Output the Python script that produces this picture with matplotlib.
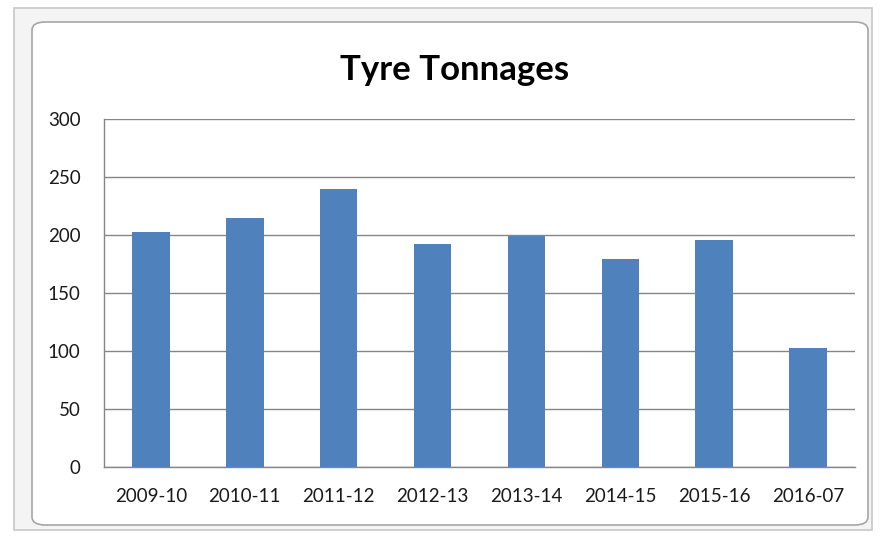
import matplotlib
matplotlib.use("Agg")
import matplotlib.pyplot as plt
from matplotlib.patches import FancyBboxPatch, Rectangle

categories = ["2009-10", "2010-11", "2011-12", "2012-13", "2013-14", "2014-15", "2015-16", "2016-07"]
tonnages = [203, 215, 240, 192, 199, 179, 196, 103]
title = "Tyre Tonnages"

W, H = 880, 536
fig = plt.figure(figsize=(W / 100, H / 100), dpi=100)
fig.patch.set_facecolor("white")

# outer window-like frame
fig.patches.append(Rectangle((14 / W, 1 - 530 / H), (872 - 14) / W, (530 - 8) / H,
                             transform=fig.transFigure, facecolor="#f4f4f4",
                             edgecolor="#c8c8c8", linewidth=1.2, zorder=0))
# rounded chart border
fig.patches.append(FancyBboxPatch((32 / W, 1 - 525 / H), (868 - 32) / W, (525 - 22) / H,
                                  boxstyle="round,pad=0,rounding_size=0.015",
                                  transform=fig.transFigure, facecolor="white",
                                  edgecolor="#a6a6a6", linewidth=1.2, zorder=0.5))

left, right, top, bottom = 104, 855, 119, 467
ax = fig.add_axes([left / W, 1 - bottom / H, (right - left) / W, (bottom - top) / H])
ax.set_zorder(2)
ax.set_facecolor("none")

x = range(len(categories))
ax.bar(x, tonnages, width=0.4, color="#4F81BD", zorder=3)
ax.set_xlim(-0.5, len(categories) - 0.5)
ax.set_ylim(0, 300)
ax.set_yticks(range(0, 301, 50))
ax.set_xticks(list(x))
ax.set_xticklabels(categories)
ax.grid(axis="y", color="#868686", linewidth=1.0, zorder=0)
for s in ["top", "right"]:
    ax.spines[s].set_visible(False)
for s in ["left", "bottom"]:
    ax.spines[s].set_color("#868686")
    ax.spines[s].set_linewidth(1.0)
ax.tick_params(axis="both", length=0, labelsize=13.5, colors="#000000")
ax.tick_params(axis="y", pad=17)
ax.tick_params(axis="x", pad=15)
for lab in ax.get_xticklabels() + ax.get_yticklabels():
    lab.set_fontfamily(["Lato", "DejaVu Sans"])
    lab.set_color("#1a1a1a")

fig.text(455 / W, 1 - 70 / H, title, ha="center", va="center", fontsize=25,
         fontweight="bold", family=["Lato", "DejaVu Sans"], color="#000000",
         zorder=3)

fig.savefig("out.png", dpi=100)
